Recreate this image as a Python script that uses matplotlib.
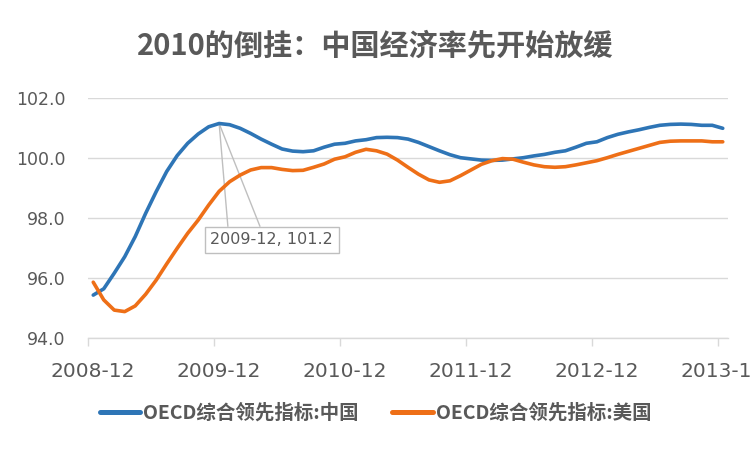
import matplotlib
matplotlib.use("Agg")
import matplotlib.pyplot as plt

plt.rcParams['font.family'] = ['Noto Sans CJK SC', 'DejaVu Sans']

months = ["2008-12", "2009-12", "2010-12", "2011-12", "2012-12", "2013-12"]
china = [95.44, 95.65, 96.17, 96.72, 97.39, 98.17, 98.89, 99.56, 100.09, 100.5,
         100.81, 101.05, 101.16, 101.12, 101.0, 100.83, 100.64, 100.47, 100.31, 100.24,
         100.22, 100.25, 100.37, 100.47, 100.5, 100.58, 100.62, 100.69, 100.7, 100.69,
         100.64, 100.53, 100.39, 100.25, 100.12, 100.02, 99.98, 99.94, 99.93, 99.94,
         99.98, 100.02, 100.08, 100.13, 100.2, 100.25, 100.37, 100.5, 100.55, 100.69,
         100.8, 100.88, 100.95, 101.03, 101.1, 101.13, 101.14, 101.13, 101.1, 101.1,
         101.0]
usa = [95.87, 95.28, 94.94, 94.89, 95.08, 95.47, 95.94, 96.48, 97.0, 97.5,
       97.94, 98.44, 98.9, 99.22, 99.44, 99.61, 99.69, 99.69, 99.63, 99.59,
       99.6, 99.7, 99.81, 99.97, 100.05, 100.2, 100.3, 100.25, 100.14, 99.94,
       99.7, 99.47, 99.28, 99.2, 99.25, 99.42, 99.61, 99.8, 99.92, 99.99,
       99.97, 99.87, 99.78, 99.72, 99.7, 99.72, 99.78, 99.85, 99.92, 100.02,
       100.13, 100.23, 100.33, 100.43, 100.53, 100.57, 100.58, 100.58, 100.58, 100.55,
       100.55]
series_names = ["OECD综合领先指标:中国", "OECD综合领先指标:美国"]
peak_label = "2009-12, 101.2"
yticks = [94.0, 96.0, 98.0, 100.0, 102.0]

fig = plt.figure(figsize=(7.51, 4.51), dpi=100)
ax = fig.add_axes([88/751, 1-338.3/451, 640/751, 240/451])

x = list(range(len(china)))
l1, = ax.plot(x, china, color="#2E75B6", lw=2.6, solid_capstyle="round", zorder=3)
l2, = ax.plot(x, usa, color="#EE6F17", lw=2.6, solid_capstyle="round", zorder=3)

ax.set_xlim(-0.5, len(china) - 0.5)
ax.set_ylim(94, 102)
ax.set_yticks(yticks)
ax.set_yticklabels([f"{v:.1f}" for v in yticks])
ax.yaxis.grid(True, color="#D9D9D9", lw=1)
ax.set_axisbelow(True)
for s in ["top", "right", "left"]:
    ax.spines[s].set_visible(False)
ax.spines["bottom"].set_color("#D9D9D9")
ax.spines["bottom"].set_linewidth(1)

lab_pos = [12 * k for k in range(len(months))]
ax.set_xticks(lab_pos)
ax.set_xticklabels(months)
ax.set_xticks([p - 0.5 for p in lab_pos], minor=True)
ax.tick_params(axis="x", which="major", length=0, pad=17, labelsize=14.5, labelcolor="#595959")
ax.tick_params(axis="x", which="minor", length=6, color="#D9D9D9", width=1)
ax.tick_params(axis="y", length=0, pad=16, labelsize=12.5, labelcolor="#595959")
for lab in ax.get_xticklabels() + ax.get_yticklabels():
    lab.set_fontfamily(["DejaVu Sans"])
for lab in ax.get_xticklabels():
    lab.set_clip_on(False)

# callout for the peak
pk = max(range(len(china)), key=lambda i: china[i])
px, py = pk, china[pk]
bx, by = px + 5.0, py - 3.88
ax.plot([px, px + 0.83], [py, py - 3.42], color="#BFBFBF", lw=1, zorder=2)
ax.plot([px, px + 3.88], [py, py - 3.42], color="#BFBFBF", lw=1, zorder=2)
ax.text(bx, by, peak_label, ha="center", va="center", fontsize=11.5, color="#595959",
        family=["DejaVu Sans"], zorder=4,
        bbox=dict(boxstyle="square,pad=0.35", fc="white", ec="#BFBFBF", lw=1))

fig.text(0.5, 1 - 45/451, "2010的倒挂：中国经济率先开始放缓", ha="center", va="center",
         fontsize=21, fontweight="bold", color="#595959")

leg = fig.legend([l1, l2], series_names, loc="center", bbox_to_anchor=(0.5, 1 - 413/451),
                 ncol=2, frameon=False, handlelength=2.1, handletextpad=0.15,
                 columnspacing=1.7, prop=dict(size=14, weight="bold"))
for t in leg.get_texts():
    t.set_color("#595959")
for h in leg.legend_handles:
    h.set_linewidth(3.6)

fig.savefig("out.png", dpi=100)
